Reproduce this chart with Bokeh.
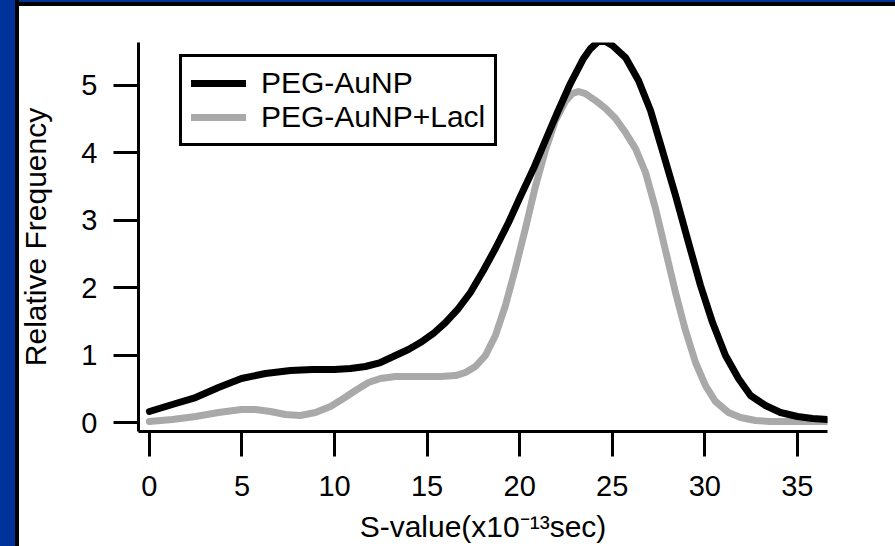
from bokeh.plotting import figure
from bokeh.models import Range1d, FixedTicker, Legend, LegendItem
from bokeh.embed import file_html
from bokeh.resources import INLINE

# ---- data ----
series_names = ["PEG-AuNP", "PEG-AuNP+Lacl"]

x_peg = [0.00, 1.24, 2.49, 3.73, 4.97, 6.27, 7.62, 8.81, 9.99, 10.86, 11.67, 12.48,
         13.29, 13.99, 14.64, 15.34, 15.99, 16.69, 17.34, 18.04, 18.69, 19.40, 20.04,
         20.75, 21.39, 22.04, 22.74, 23.45, 23.83, 24.26, 24.64, 25.01, 25.72, 26.42,
         27.07, 27.71, 28.42, 29.12, 29.77, 30.42, 31.12, 31.82, 32.47, 33.28, 34.09,
         35.01, 35.82, 36.63]
y_peg = [0.163, 0.267, 0.370, 0.519, 0.652, 0.726, 0.770, 0.785, 0.785, 0.800, 0.830,
         0.889, 0.993, 1.081, 1.185, 1.319, 1.481, 1.689, 1.926, 2.252, 2.578, 2.963,
         3.348, 3.763, 4.178, 4.593, 5.022, 5.393, 5.540, 5.650, 5.644, 5.585, 5.407,
         5.067, 4.622, 4.030, 3.363, 2.667, 2.030, 1.481, 0.993, 0.652, 0.400, 0.252,
         0.148, 0.089, 0.059, 0.044]

x_lacl = [0.00, 1.24, 2.49, 3.73, 4.97, 5.73, 6.54, 7.35, 8.16, 8.97, 9.78, 10.48,
          11.13, 11.83, 12.48, 13.29, 14.10, 14.91, 15.72, 16.53, 17.07, 17.61, 18.15,
          18.69, 19.23, 19.77, 20.31, 20.85, 21.39, 21.93, 22.47, 22.85, 23.18, 23.55,
          24.10, 24.64, 25.18, 25.72, 26.26, 26.80, 27.34, 27.88, 28.42, 28.96, 29.50,
          30.04, 30.58, 31.28, 31.93, 32.74, 33.55, 35.17, 36.63]
y_lacl = [0.015, 0.044, 0.089, 0.148, 0.193, 0.193, 0.163, 0.119, 0.104, 0.148, 0.237,
          0.356, 0.474, 0.593, 0.652, 0.681, 0.681, 0.681, 0.681, 0.696, 0.741, 0.830,
          0.993, 1.289, 1.733, 2.281, 2.874, 3.496, 4.030, 4.474, 4.756, 4.874, 4.904,
          4.874, 4.770, 4.652, 4.504, 4.296, 4.059, 3.704, 3.170, 2.548, 1.926, 1.363,
          0.889, 0.548, 0.311, 0.148, 0.074, 0.030, 0.015, 0.015, 0.015]

x_ticks = [0, 5, 10, 15, 20, 25, 30, 35]
y_ticks = [0, 1, 2, 3, 4, 5]

x_title = "S-value(x10\u207b\u00b9\u00b3sec)"
y_title = "Relative Frequency"

FONT = "Liberation Sans"

p = figure(width=895, height=546, output_backend="svg", toolbar_location=None,
           x_range=Range1d(-0.59, 36.63), y_range=Range1d(-0.133, 5.63),
           min_border_left=138, min_border_right=68, min_border_top=42,
           min_border_bottom=115)
p.background_fill_color = "white"
p.border_fill_color = None
p.outline_line_color = None
p.grid.visible = False
p.styles = {
    "background-color": "white",
    "box-shadow": ("inset 15px 0 0 0 #003399, inset 19px 0 0 0 #000000, "
                   "inset 0 2px 0 0 #003399, inset 0 6px 0 0 #000000"),
}

for ax in (p.xaxis[0], p.yaxis[0]):
    ax.axis_line_width = 3
    ax.axis_line_color = "black"
    ax.major_tick_line_width = 3
    ax.major_tick_line_color = "black"
    ax.major_tick_out = 25
    ax.major_tick_in = 0
    ax.minor_tick_line_color = None
    ax.major_label_text_font = FONT
    ax.major_label_text_font_size = "29px"
    ax.major_label_text_color = "black"
    ax.axis_label_text_font = FONT
    ax.axis_label_text_font_size = "30px"
    ax.axis_label_text_font_style = "normal"
    ax.axis_label_text_color = "black"

p.xaxis.ticker = FixedTicker(ticks=x_ticks)
p.yaxis.ticker = FixedTicker(ticks=y_ticks)
p.xaxis.major_label_standoff = 19
p.yaxis.major_label_standoff = 16
p.xaxis.axis_label = x_title
p.xaxis.axis_label_standoff = 11
p.yaxis.axis_label = y_title
p.yaxis.axis_label_standoff = 26

r2 = p.line(x_lacl, y_lacl, line_color="#a9a9a9", line_width=7,
            line_cap="round", line_join="round")
r1 = p.line(x_peg, y_peg, line_color="black", line_width=7,
            line_cap="round", line_join="round")

legend = Legend(items=[LegendItem(label=series_names[0], renderers=[r1]),
                       LegendItem(label=series_names[1], renderers=[r2])],
                location=(41, 285), border_line_color="black", border_line_width=3,
                border_line_alpha=1, background_fill_color="white",
                background_fill_alpha=1, label_text_font=FONT,
                label_text_font_size="30px", label_text_color="black",
                glyph_width=55, glyph_height=30, label_height=30, label_standoff=15,
                padding=9, spacing=0, margin=0)
p.add_layout(legend)

open("out.html", "w").write(file_html(p, INLINE))
